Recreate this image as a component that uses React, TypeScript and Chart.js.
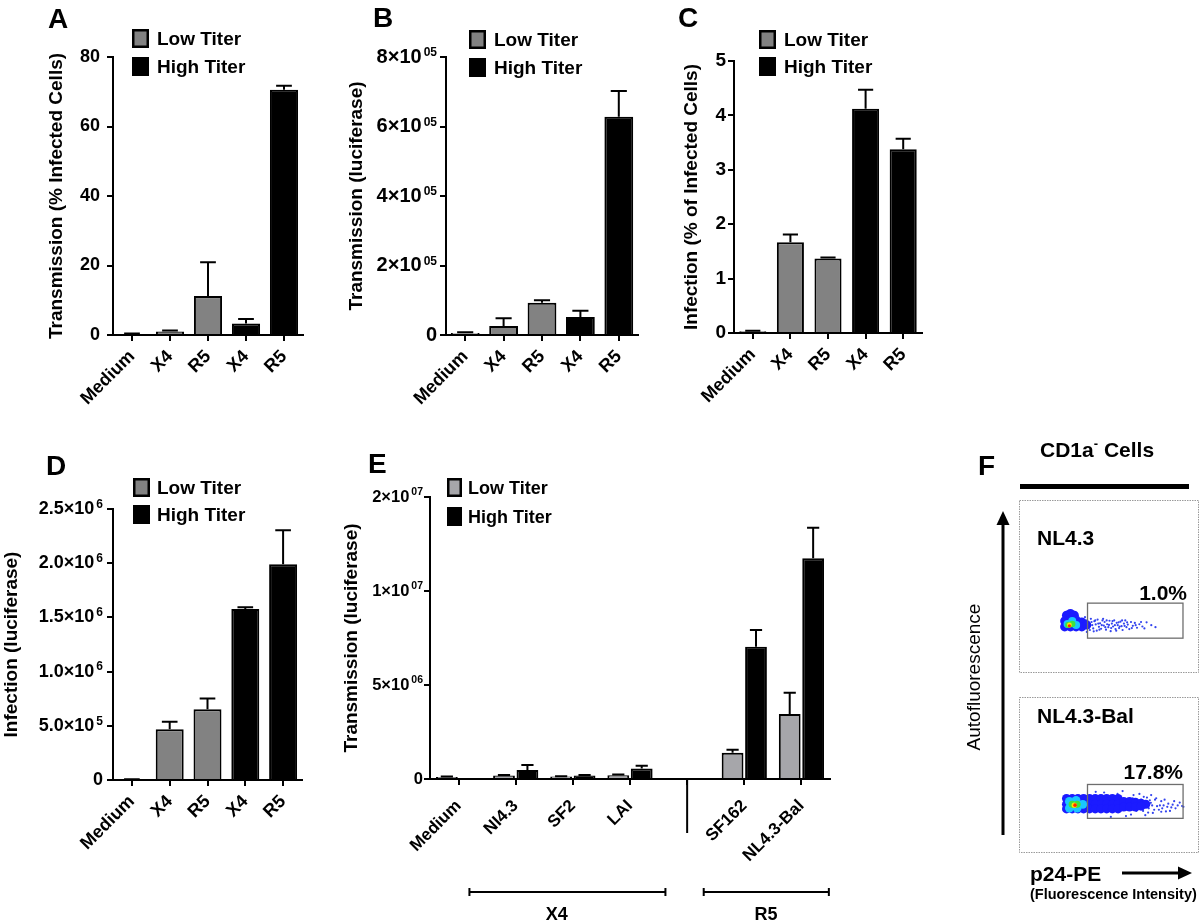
import React, { useEffect, useRef } from 'react';
import { Chart, registerables } from 'chart.js';

Chart.register(...registerables);

const FONT = "'Liberation Sans', Arial, Helvetica, sans-serif";
const GRAY = '#828282';
const LIGHT_GRAY = '#a6a6aa';
const BLACK = '#000000';

// ---------------- Panel A ----------------
const aCategories = ['Medium', 'X4', 'R5', 'X4', 'R5'];
const aMedium = [0.3, null, null, null, null];
const aMediumErr = [0.1, null, null, null, null];
const aLow = [null, 1.0, 11.2, null, null];
const aLowErr = [null, 0.3, 9.7, null, null];
const aHigh = [null, null, null, 3.3, 70.6];
const aHighErr = [null, null, null, 1.3, 1.1];
const aTickLabels = ['0', '20', '40', '60', '80'];

// ---------------- Panel B ----------------
const bCategories = ['Medium', 'X4', 'R5', 'X4', 'R5'];
const bMedium = [6000, null, null, null, null];
const bMediumErr = [2000, null, null, null, null];
const bLow = [null, 26000, 93000, null, null];
const bLowErr = [null, 22000, 7000, null, null];
const bHigh = [null, null, null, 52000, 628000];
const bHighErr = [null, null, null, 18000, 74000];
const bTickBase = ['0', '2×10', '4×10', '6×10', '8×10'];
const bTickExp = ['', '05', '05', '05', '05'];

// ---------------- Panel C ----------------
const cCategories = ['Medium', 'X4', 'R5', 'X4', 'R5'];
const cMedium = [0.03, null, null, null, null];
const cMediumErr = [0.01, null, null, null, null];
const cLow = [null, 1.67, 1.37, null, null];
const cLowErr = [null, 0.14, 0.02, null, null];
const cHigh = [null, null, null, 4.12, 3.38];
const cHighErr = [null, null, null, 0.35, 0.19];
const cTickLabels = ['0', '1', '2', '3', '4', '5'];

// ---------------- Panel D ----------------
const dCategories = ['Medium', 'X4', 'R5', 'X4', 'R5'];
const dMedium = [6000, null, null, null, null];
const dMediumErr = [1000, null, null, null, null];
const dLow = [null, 468000, 652000, null, null];
const dLowErr = [null, 70000, 100000, null, null];
const dHigh = [null, null, null, 1578000, 1990000];
const dHighErr = [null, null, null, 15000, 315000];
const dTickBase = ['0', '5.0×10', '1.0×10', '1.5×10', '2.0×10', '2.5×10'];
const dTickExp = ['', '5', '6', '6', '6', '6'];

// ---------------- Panel E ----------------
const eCategories = ['Medium', 'NI4.3', 'SF2', 'LAI', '', 'SF162', 'NL4.3-Bal'];
const eLow = [100000, 180000, 130000, 200000, null, 1400000, 3460000];
const eLowErr = [30000, 30000, 20000, 40000, null, 150000, 1130000];
const eHigh = [null, 480000, 180000, 560000, null, 7040000, 11740000];
const eHighErr = [null, 260000, 30000, 140000, null, 890000, 1630000];
const eTickBase = ['0', '5×10', '1×10', '2×10'];
const eTickExp = ['', '06', '07', '07'];
const eGroupLabels = ['X4', 'R5'];

// ---------------- Panel F (flow cytometry, channel units 0-1024) ----------------
const fTopTail = [
  [372, 300], [380, 262], [388, 285], [395, 240], [401, 310], [409, 270], [415, 250], [422, 295],
  [430, 275], [436, 236], [441, 305], [449, 260], [456, 282], [462, 248], [470, 300], [478, 268],
  [483, 290], [491, 242], [498, 276], [505, 258], [512, 298], [519, 233], [526, 280], [533, 262],
  [540, 300], [548, 246], [555, 285], [561, 270], [569, 252], [577, 292], [584, 264], [590, 240],
  [598, 280], [606, 300], [613, 258], [621, 274], [630, 246], [640, 290], [651, 266], [663, 284],
  [676, 254], [690, 276], [708, 262], [733, 288], [761, 270], [786, 258], [366, 320], [377, 228],
  [392, 262], [405, 290], [418, 232], [427, 300], [445, 280], [452, 242], [466, 270], [474, 310],
  [487, 258], [495, 300], [509, 272], [522, 252], [530, 296], [544, 270], [552, 236], [566, 288],
  [573, 262], [587, 300], [602, 266], [617, 288], [645, 252], [668, 270], [700, 290], [720, 250],
];
const fTopBlue = [
  [256, 332], [279, 343], [302, 332], [245, 296], [279, 302], [313, 302], [347, 290],
  [245, 260], [279, 260], [313, 260], [347, 260], [376, 272],
];
const fTopCyan = [[262, 278], [290, 296], [313, 272]];
const fTopGreen = [[267, 272], [290, 278]];
const fTopYellow = [[273, 272]];
const fTopRed = [[273, 266]];
const fTopGate = [381, 950, 189, 408];

const fBotTail = [
  [700, 340], [712, 262], [724, 300], [735, 355], [746, 280], [758, 318], [770, 248], [783, 340],
  [795, 295], [806, 270], [820, 330], [834, 300], [848, 258], [862, 312], [880, 286], [897, 330],
  [918, 300], [944, 296], [560, 380], [610, 226], [480, 390], [655, 372], [520, 220], [430, 395],
  [590, 400], [640, 236], [690, 380], [725, 232], [760, 372], [820, 256],
  [650, 350], [672, 262], [684, 320], [698, 290], [716, 360], [730, 300], [742, 250], [752, 336],
  [766, 300], [778, 270], [790, 350], [812, 300], [826, 280], [840, 340], [856, 290], [872, 262],
  [888, 305], [905, 280], [930, 320], [952, 290],
];
const fBotBlue = [
  [256, 348], [290, 348], [324, 348], [358, 348], [393, 348], [427, 348], [461, 348], [495, 348],
  [529, 348], [563, 348],
  [256, 308], [290, 308], [324, 308], [358, 308], [393, 308], [427, 308], [461, 308], [495, 308],
  [529, 308], [563, 308],
  [256, 276], [290, 276], [324, 276], [358, 276], [393, 276], [427, 276], [461, 276], [495, 276],
  [529, 276], [563, 276],
  [597, 328], [631, 328], [666, 322], [700, 315], [728, 308],
  [597, 289], [631, 289], [666, 289], [700, 295],
];
const fBotCyan = [[273, 328], [273, 282], [313, 335], [319, 282], [353, 308]];
const fBotGreen = [[290, 308], [319, 308]];
const fBotYellow = [[302, 302]];
const fBotRed = [[307, 302]];
const fBotGate = [381, 950, 210, 446];

// ---------------- plugins ----------------
const errorBars = {
  id: 'errorBars',
  afterDatasetsDraw(chart: any) {
    const ctx = chart.ctx;
    const ys = chart.scales.y;
    chart.data.datasets.forEach((ds: any, i: number) => {
      if (!ds.errors) return;
      const meta = chart.getDatasetMeta(i);
      meta.data.forEach((el: any, j: number) => {
        const v = ds.data[j];
        const e = ds.errors[j];
        if (v == null || e == null) return;
        const top = ys.getPixelForValue(v + e);
        const half = el.width * 0.28;
        ctx.save();
        ctx.strokeStyle = '#000';
        ctx.lineWidth = 2;
        ctx.beginPath();
        ctx.moveTo(el.x, el.y);
        ctx.lineTo(el.x, top);
        ctx.moveTo(el.x - half, top);
        ctx.lineTo(el.x + half, top);
        ctx.stroke();
        ctx.restore();
      });
    });
  },
};

const boxLegend = {
  id: 'boxLegend',
  afterDraw(chart: any, _args: any, o: any) {
    if (!o || o.left == null) return;
    const ctx = chart.ctx;
    const items = chart.data.datasets.filter((d: any) => d.inLegend);
    items.forEach((d: any, k: number) => {
      const y = o.top + k * o.step;
      ctx.save();
      ctx.fillStyle = d.backgroundColor;
      ctx.fillRect(o.left, y, o.boxW, o.boxH);
      ctx.strokeStyle = '#000';
      ctx.lineWidth = 2.5;
      ctx.strokeRect(o.left + 1.25, y + 1.25, o.boxW - 2.5, o.boxH - 2.5);
      ctx.fillStyle = '#000';
      ctx.font = `bold ${o.fontSize}px ${FONT}`;
      ctx.textBaseline = 'alphabetic';
      ctx.textAlign = 'left';
      ctx.fillText(d.label, o.left + o.boxW + o.gap, y + o.boxH - 3);
      ctx.restore();
    });
  },
};

// y tick labels with a raised exponent (e.g. 2×10^05)
const supTicks = {
  id: 'supTicks',
  afterDraw(chart: any, _args: any, o: any) {
    if (!o || !o.base) return;
    const ys = chart.scales.y;
    const ctx = chart.ctx;
    const xr = ys.right - 6 - o.pad;
    ys.ticks.forEach((t: any, i: number) => {
      const base = o.base[i];
      if (base == null) return;
      const exp = o.exp[i];
      const y = ys.getPixelForValue(t.value);
      ctx.save();
      ctx.fillStyle = '#000';
      ctx.textAlign = 'right';
      ctx.textBaseline = 'middle';
      let x = xr;
      if (exp) {
        ctx.font = `bold ${o.supSize}px ${FONT}`;
        ctx.fillText(exp, x, y - o.raise);
        x -= ctx.measureText(exp).width + o.gap;
      }
      ctx.font = `bold ${o.size}px ${FONT}`;
      ctx.fillText(base, x, y);
      ctx.restore();
    });
  },
};

const groupBrackets = {
  id: 'groupBrackets',
  afterDraw(chart: any, _args: any, o: any) {
    if (!o || !o.groups) return;
    const ctx = chart.ctx;
    const xs = chart.scales.x;
    const bottom = chart.chartArea.bottom;
    ctx.save();
    ctx.strokeStyle = '#000';
    ctx.lineWidth = 2;
    const dx = xs.getPixelForValue(o.dividerAt);
    ctx.beginPath();
    ctx.moveTo(dx, bottom);
    ctx.lineTo(dx, bottom + o.dividerLen);
    ctx.stroke();
    o.groups.forEach((g: any) => {
      const x1 = xs.getPixelForValue(g.from);
      const x2 = xs.getPixelForValue(g.to);
      const xl = xs.getPixelForValue(g.at);
      ctx.beginPath();
      ctx.moveTo(x1, o.bracketY);
      ctx.lineTo(x2, o.bracketY);
      ctx.moveTo(x1, o.bracketY - 4);
      ctx.lineTo(x1, o.bracketY + 4);
      ctx.moveTo(x2, o.bracketY - 4);
      ctx.lineTo(x2, o.bracketY + 4);
      ctx.stroke();
      ctx.fillStyle = '#000';
      ctx.font = `bold 18px ${FONT}`;
      ctx.textAlign = 'center';
      ctx.textBaseline = 'alphabetic';
      ctx.fillText(g.label, xl, o.labelY);
    });
    ctx.restore();
  },
};

const gateBox = {
  id: 'gateBox',
  afterDatasetsDraw(chart: any, _args: any, o: any) {
    if (!o || !o.gate) return;
    const [gx1, gx2, gy1, gy2] = o.gate;
    const xs = chart.scales.x;
    const ys = chart.scales.y;
    const ctx = chart.ctx;
    const px1 = xs.getPixelForValue(gx1);
    const px2 = xs.getPixelForValue(gx2);
    const py1 = ys.getPixelForValue(gy2);
    const py2 = ys.getPixelForValue(gy1);
    ctx.save();
    ctx.strokeStyle = '#6e6e6e';
    ctx.lineWidth = 1.3;
    ctx.strokeRect(px1, py1, px2 - px1, py2 - py1);
    ctx.restore();
  },
};

function barConfig(p: any) {
  return {
    type: 'bar',
    data: { labels: p.categories, datasets: p.datasets },
    options: {
      responsive: false,
      animation: false,
      devicePixelRatio: 1,
      layout: { padding: { top: p.top, right: p.right, bottom: 0, left: 0 } },
      datasets: {
        bar: {
          grouped: p.grouped,
          categoryPercentage: p.catPct,
          barPercentage: p.barPct,
          borderWidth: 2,
          borderColor: '#000',
          borderSkipped: 'start',
        },
      },
      scales: {
        x: {
          type: 'category',
          offset: true,
          grid: { display: true, drawOnChartArea: false, drawTicks: true, tickLength: 6, color: '#000', lineWidth: 2, offset: false },
          border: { display: true, color: '#000', width: 2, z: 1 },
          ticks: {
            autoSkip: false,
            minRotation: 45,
            maxRotation: 45,
            padding: p.xPad,
            color: '#000',
            font: { family: FONT, size: p.xFont, weight: 'bold' },
          },
          afterFit: (s: any) => { s.height = p.xHeight; },
        },
        y: {
          type: 'linear',
          min: 0,
          max: p.yMax,
          grid: { display: true, drawOnChartArea: false, drawTicks: true, tickLength: 6, color: '#000', lineWidth: 2 },
          border: { display: true, color: '#000', width: 2, z: 1 },
          ticks: {
            display: !p.sup,
            stepSize: p.yStep,
            padding: p.yPad,
            color: '#000',
            font: { family: FONT, size: p.yFont, weight: 'bold' },
            callback: (v: any, i: number) => (p.tickLabels ? p.tickLabels[i] : String(v)),
          },
          title: {
            display: true,
            text: p.yTitle,
            color: '#000',
            font: { family: FONT, size: 19, weight: 'bold', lineHeight: 1.2 },
            padding: { top: p.titlePad, bottom: 0 },
          },
          afterFit: (s: any) => { s.width = p.axisX; },
        },
      },
      plugins: {
        legend: { display: false },
        tooltip: { enabled: false },
        boxLegend: p.legend,
        groupBrackets: p.brackets || {},
        supTicks: p.sup || {},
      },
    },
    plugins: [errorBars, boxLegend, groupBrackets, supTicks],
  };
}

function threeSets(medium: any[], mediumErr: any[], low: any[], lowErr: any[], high: any[], highErr: any[]) {
  return [
    { label: 'Medium', data: medium, errors: mediumErr, backgroundColor: '#ffffff', inLegend: false },
    { label: 'Low Titer', data: low, errors: lowErr, backgroundColor: GRAY, inLegend: true },
    { label: 'High Titer', data: high, errors: highErr, backgroundColor: BLACK, inLegend: true },
  ];
}

function flowConfig(layers: any[], gate: number[]) {
  return {
    type: 'scatter',
    data: {
      datasets: layers.map((l: any) => ({
        data: l.points.map((pt: number[]) => ({ x: pt[0], y: pt[1] })),
        backgroundColor: l.color,
        pointRadius: l.r,
        pointHoverRadius: l.r,
        pointBorderWidth: 0,
      })),
    },
    options: {
      responsive: false,
      animation: false,
      devicePixelRatio: 1,
      layout: { padding: 0 },
      scales: {
        x: { type: 'linear', min: 0, max: 1024, display: false },
        y: { type: 'linear', min: 0, max: 1024, display: false },
      },
      plugins: { legend: { display: false }, tooltip: { enabled: false }, gateBox: { gate } },
    },
    plugins: [gateBox],
  };
}

export default function App() {
  const refA = useRef<HTMLCanvasElement>(null);
  const refB = useRef<HTMLCanvasElement>(null);
  const refC = useRef<HTMLCanvasElement>(null);
  const refD = useRef<HTMLCanvasElement>(null);
  const refE = useRef<HTMLCanvasElement>(null);
  const refF1 = useRef<HTMLCanvasElement>(null);
  const refF2 = useRef<HTMLCanvasElement>(null);

  useEffect(() => {
    const charts: any[] = [];
    charts.push(new Chart(refA.current as any, barConfig({
      categories: aCategories,
      datasets: threeSets(aMedium, aMediumErr, aLow, aLowErr, aHigh, aHighErr),
      top: 57, right: 32, axisX: 113, xHeight: 90, xPad: 5,
      yMax: 80, yStep: 20, tickLabels: aTickLabels, yFont: 18, yPad: 7, xFont: 18,
      yTitle: 'Transmission (% Infected Cells)', titlePad: 45.6,
      grouped: false, catPct: 1, barPct: 0.74,
      legend: { left: 132, top: 29, boxW: 17, boxH: 19, step: 28, gap: 8, fontSize: 19 },
    }) as any));
    charts.push(new Chart(refB.current as any, barConfig({
      categories: bCategories,
      datasets: threeSets(bMedium, bMediumErr, bLow, bLowErr, bHigh, bHighErr),
      top: 57, right: 37, axisX: 111, xHeight: 90, xPad: 5,
      yMax: 800000, yStep: 200000, yFont: 20, yPad: 3, xFont: 18,
      sup: { base: bTickBase, exp: bTickExp, size: 20, supSize: 12, raise: 4, gap: 2, pad: 3 },
      yTitle: 'Transmission (luciferase)', titlePad: 10.6,
      grouped: false, catPct: 1, barPct: 0.75,
      legend: { left: 134, top: 30, boxW: 17, boxH: 19, step: 28, gap: 8, fontSize: 19 },
    }) as any));
    charts.push(new Chart(refC.current as any, barConfig({
      categories: cCategories,
      datasets: threeSets(cMedium, cMediumErr, cLow, cLowErr, cHigh, cHighErr),
      top: 61, right: 43, axisX: 59, xHeight: 92, xPad: 5,
      yMax: 5, yStep: 1, tickLabels: cTickLabels, yFont: 19, yPad: 2, xFont: 18,
      yTitle: 'Infection (% of Infected Cells)', titlePad: 5.6,
      grouped: false, catPct: 1, barPct: 0.72,
      legend: { left: 84, top: 30, boxW: 17, boxH: 19, step: 27, gap: 8, fontSize: 19 },
    }) as any));
    charts.push(new Chart(refD.current as any, barConfig({
      categories: dCategories,
      datasets: threeSets(dMedium, dMediumErr, dLow, dLowErr, dHigh, dHighErr),
      top: 79, right: 28, axisX: 113, xHeight: 90, xPad: 5,
      yMax: 2500000, yStep: 500000, yFont: 17, yPad: 5, xFont: 18,
      sup: { base: dTickBase, exp: dTickExp, size: 18, supSize: 12, raise: 4.5, gap: 2, pad: 4 },
      yTitle: 'Infection (luciferase)', titlePad: 0.6,
      grouped: false, catPct: 1, barPct: 0.74,
      legend: { left: 133, top: 48, boxW: 17, boxH: 19, step: 27, gap: 7, fontSize: 19 },
    }) as any));
    charts.push(new Chart(refE.current as any, barConfig({
      categories: eCategories,
      datasets: [
        { label: 'Low Titer', data: eLow, errors: eLowErr, backgroundColor: LIGHT_GRAY, inLegend: true },
        { label: 'High Titer', data: eHigh, errors: eHighErr, backgroundColor: BLACK, inLegend: true },
      ],
      top: 57, right: 10, axisX: 100, xHeight: 144, xPad: 11,
      yMax: 15000000, yStep: 5000000, yFont: 16, yPad: 1, xFont: 17,
      sup: { base: eTickBase, exp: eTickExp, size: 16.5, supSize: 10.5, raise: 4.5, gap: 2, pad: 1 },
      yTitle: 'Transmission (luciferase)', titlePad: 10.6,
      grouped: true, catPct: 0.82, barPct: 0.93,
      legend: { left: 117, top: 38, boxW: 15, boxH: 19, step: 29, gap: 6, fontSize: 18 },
      brackets: {
        dividerAt: 4, dividerLen: 54, bracketY: 452, labelY: 480,
        groups: [
          { label: eGroupLabels[0], from: 0.19, to: 3.62, at: 1.72 },
          { label: eGroupLabels[1], from: 4.29, to: 6.48, at: 5.38 },
        ],
      },
    }) as any));
    charts.push(new Chart(refF1.current as any, flowConfig([
      { points: fTopRed, color: '#ff2a00', r: 1.6 },
      { points: fTopYellow, color: '#ffe600', r: 2.4 },
      { points: fTopGreen, color: '#3fe03f', r: 3.2 },
      { points: fTopCyan, color: '#19c6ff', r: 4 },
      { points: fTopBlue, color: '#1b1bff', r: 4.6 },
      { points: fTopTail, color: '#3344ee', r: 1.1 },
    ], fTopGate) as any));
    charts.push(new Chart(refF2.current as any, flowConfig([
      { points: fBotRed, color: '#ff2a00', r: 1.8 },
      { points: fBotYellow, color: '#ffe600', r: 2.6 },
      { points: fBotGreen, color: '#3fe03f', r: 3.6 },
      { points: fBotCyan, color: '#19c6ff', r: 4.4 },
      { points: fBotBlue, color: '#1b1bff', r: 4.5 },
      { points: fBotTail, color: '#3344ee', r: 1.1 },
    ], fBotGate) as any));
    return () => charts.forEach((c) => c.destroy());
  }, []);

  const abs = (l: number, t: number): any => ({ position: 'absolute', left: l, top: t });
  const letter = { fontFamily: FONT, fontWeight: 'bold', fontSize: 28, fill: '#000' } as any;
  const ftxt = { fontFamily: FONT, fontWeight: 'bold', fontSize: 21, fill: '#000' } as any;

  return (
    <div style={{ position: 'absolute', left: 0, top: 0, width: 1200, height: 923, background: '#fff', overflow: 'hidden' }}>
      <canvas ref={refA} width={335} height={425} style={abs(0, 0)} />
      <canvas ref={refB} width={340} height={425} style={abs(335, 0)} />
      <canvas ref={refC} width={290} height={425} style={abs(675, 0)} />
      <canvas ref={refD} width={330} height={440} style={abs(0, 430)} />
      <canvas ref={refE} width={510} height={483} style={abs(330, 440)} />
      <canvas ref={refF1} width={181} height={173} style={abs(1019, 500)} />
      <canvas ref={refF2} width={181} height={156} style={abs(1019, 697)} />
      <svg width={1200} height={923} style={{ position: 'absolute', left: 0, top: 0, pointerEvents: 'none' }}>
        <text x={48} y={28} style={letter}>A</text>
        <text x={373} y={27} style={letter}>B</text>
        <text x={678} y={27} style={letter}>C</text>
        <text x={46} y={475} style={letter}>D</text>
        <text x={368} y={473} style={letter}>E</text>
        <text x={978} y={475} style={letter}>F</text>

        <text x={1040} y={457} style={ftxt}>CD1a<tspan fontSize={13} dy={-9}>-</tspan><tspan dy={9}> Cells</tspan></text>
        <rect x={1020} y={484} width={169} height={5} fill="#000" />

        <rect x={1019.5} y={500.5} width={179} height={172} fill="none" stroke="#9a9a9a" strokeWidth={1} strokeDasharray="1.5,1" />
        <rect x={1019.5} y={697.5} width={179} height={155} fill="none" stroke="#9a9a9a" strokeWidth={1} strokeDasharray="1.5,1" />

        <text x={1037} y={545} style={ftxt}>NL4.3</text>
        <text x={1187} y={600} textAnchor="end" style={ftxt}>1.0%</text>
        <text x={1037} y={723} style={ftxt}>NL4.3-Bal</text>
        <text x={1183} y={779} textAnchor="end" style={ftxt}>17.8%</text>

        <line x1={1003} y1={835} x2={1003} y2={522} stroke="#000" strokeWidth={3} />
        <polygon points="1003,511 996.5,525 1009.5,525" fill="#000" />
        <text x={973} y={677} transform="rotate(-90 973 677)" textAnchor="middle" dominantBaseline="central"
          style={{ fontFamily: FONT, fontSize: 19, fill: '#000' } as any}>Autofluorescence</text>

        <text x={1030} y={881} style={ftxt}>p24-PE</text>
        <line x1={1122} y1={873} x2={1180} y2={873} stroke="#000" strokeWidth={3} />
        <polygon points="1192,873 1178,866.5 1178,879.5" fill="#000" />
        <text x={1030} y={899} style={{ fontFamily: FONT, fontWeight: 'bold', fontSize: 14.5, fill: '#000' } as any}>(Fluorescence Intensity)</text>
      </svg>
    </div>
  );
}
